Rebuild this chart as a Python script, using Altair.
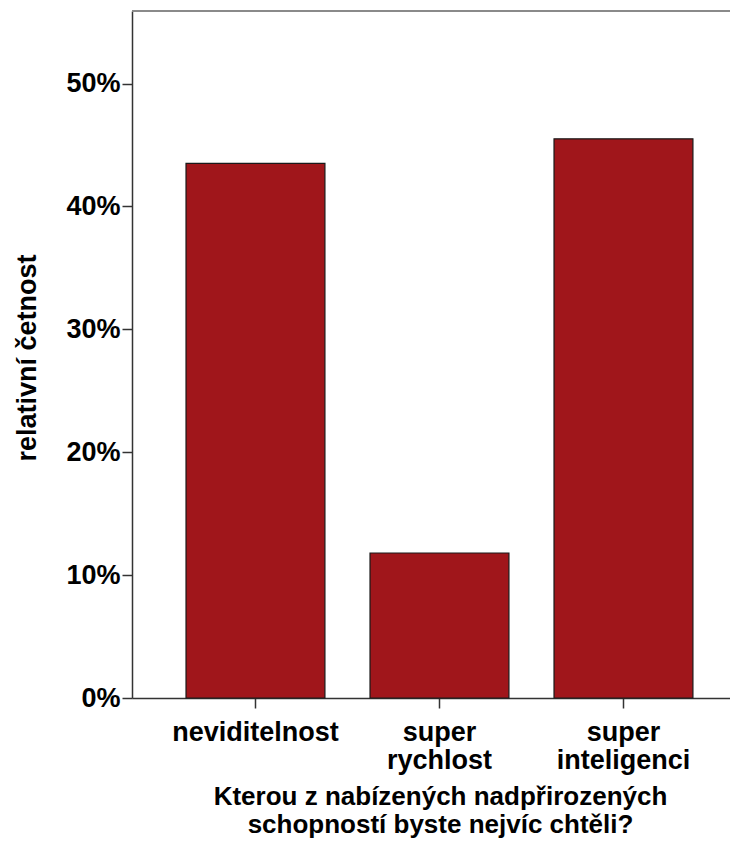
import altair as alt
import pandas as pd

categories = ["neviditelnost", "super rychlost", "super inteligenci"]
values = [0.435, 0.118, 0.455]

df = pd.DataFrame({"kat": categories, "pct": values})

FONT = "Liberation Sans"
W, H = 598, 687

bars = alt.Chart(df).mark_bar(
    color="#A0161B", stroke="#1a1a1a", strokeWidth=1.2
).encode(
    x=alt.X(
        "kat:N",
        sort=categories,
        scale=alt.Scale(paddingInner=0.245, paddingOuter=0.2475, align=0.593),
        axis=alt.Axis(
            title=["Kterou z nabízených nadpřirozených", "schopností byste nejvíc chtěli?"],
            titleX=308, titleY=106, titleBaseline="alphabetic", titleAlign="center",
            titleLineHeight=28, titleFont=FONT, titleFontSize=26, titleFontWeight="bold",
            titleColor="#000",
            labelExpr="split(datum.label, ' ')", labelAngle=0,
            labelFont=FONT, labelFontSize=27, labelFontWeight="bold", labelColor="#000",
            labelPadding=11, labelLineHeight=28,
            tickSize=10, tickColor="#333", tickWidth=1.5,
            domainColor="#333", domainWidth=1.5,
        ),
    ),
    y=alt.Y(
        "pct:Q",
        scale=alt.Scale(domain=[0, 0.559], nice=False, zero=True),
        axis=alt.Axis(
            title="relativní četnost", format=".0%", values=[0, 0.1, 0.2, 0.3, 0.4, 0.5],
            titleX=-105, titleY=H / 2 + 3, titleAngle=-90, titleBaseline="middle",
            titleAlign="center", titleFont=FONT, titleFontSize=27, titleFontWeight="bold",
            titleColor="#000",
            labelFont=FONT, labelFontSize=27, labelFontWeight="bold", labelColor="#000",
            labelPadding=2,
            tickSize=10, tickColor="#333", tickWidth=1.5,
            domainColor="#333", domainWidth=1.5, grid=False,
        ),
    ),
)

top = alt.Chart(df).mark_rule(color="#8a8a8a", strokeWidth=2).encode(
    x=alt.value(0), x2=alt.value(W), y=alt.value(0)
)

chart = (
    alt.layer(bars, top)
    .properties(
        width=W, height=H,
        autosize=alt.AutoSizeParams(type="none"),
        padding={"left": 124, "top": 3, "right": 0, "bottom": 141},
        background="white",
    )
    .configure_view(stroke=None)
)

chart.save("out.html", embed_options={"renderer": "svg", "actions": False})
